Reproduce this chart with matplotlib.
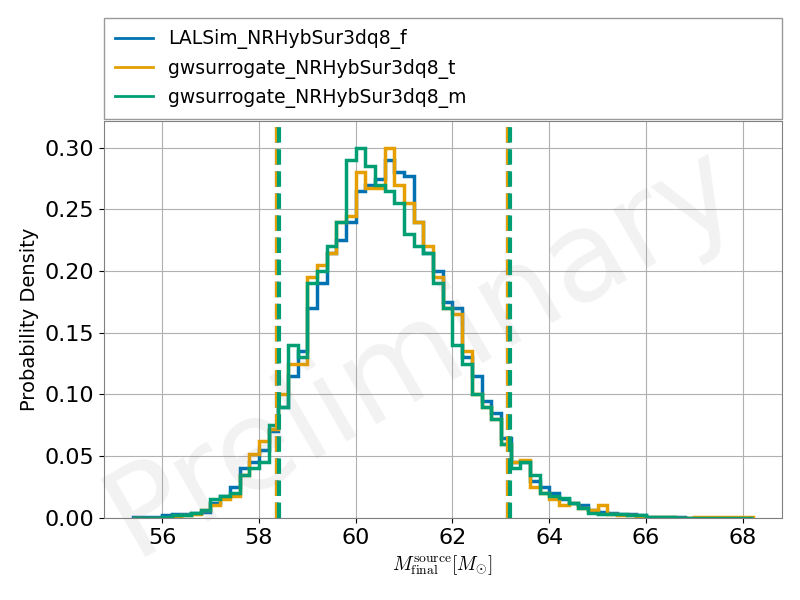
import numpy as np
import matplotlib
matplotlib.use('Agg')
import matplotlib.pyplot as plt
from matplotlib.lines import Line2D

labels = ['LALSim_NRHybSur3dq8_f', 'gwsurrogate_NRHybSur3dq8_t', 'gwsurrogate_NRHybSur3dq8_m']
colors = ['#0072b2', '#e69f00', '#009e73']

# bin edges (width 0.2) and densities
edges = np.round(np.arange(55.4, 68.21, 0.2), 2)
blue = [0.001, 0.001, 0.001, 0.002, 0.003, 0.003, 0.004, 0.005, 0.012, 0.018,
        0.025, 0.04, 0.045, 0.055, 0.07, 0.09, 0.115, 0.135, 0.17, 0.19,
        0.215, 0.225, 0.24, 0.265, 0.27, 0.275, 0.29, 0.28, 0.277, 0.24,
        0.215, 0.2, 0.175, 0.17, 0.13, 0.115, 0.095, 0.085, 0.065, 0.045,
        0.045, 0.03, 0.025, 0.02, 0.015, 0.012, 0.01, 0.006, 0.005, 0.004,
        0.003, 0.003, 0.002, 0.001, 0.001, 0.001, 0.001, 0.0, 0.0, 0.0,
        0.0, 0.0, 0.0, 0.0]
orange = [0.0, 0.0, 0.0, 0.0, 0.001, 0.002, 0.003, 0.006, 0.01, 0.015,
          0.018, 0.035, 0.052, 0.062, 0.072, 0.1, 0.125, 0.125, 0.195, 0.205,
          0.215, 0.24, 0.245, 0.28, 0.267, 0.267, 0.3, 0.27, 0.255, 0.24,
          0.22, 0.195, 0.17, 0.165, 0.135, 0.1, 0.09, 0.08, 0.06, 0.045,
          0.047, 0.025, 0.02, 0.015, 0.01, 0.012, 0.008, 0.006, 0.01, 0.003,
          0.002, 0.002, 0.001, 0.001, 0.001, 0.001, 0.0, 0.0, 0.001, 0.001,
          0.001, 0.001, 0.001, 0.001]
green = [0.0, 0.0, 0.0, 0.001, 0.002, 0.002, 0.004, 0.006, 0.015, 0.018,
         0.02, 0.035, 0.04, 0.045, 0.075, 0.09, 0.14, 0.13, 0.19, 0.2,
         0.22, 0.24, 0.29, 0.3, 0.285, 0.27, 0.265, 0.255, 0.23, 0.22,
         0.215, 0.19, 0.17, 0.14, 0.125, 0.1, 0.09, 0.08, 0.06, 0.04,
         0.045, 0.035, 0.02, 0.018, 0.016, 0.012, 0.008, 0.004, 0.003, 0.003,
         0.003, 0.002, 0.002, 0.001, 0.001, 0.001, 0.0, 0.0, 0.0, 0.0,
         0.0, 0.0, 0.0, 0.0]
lo_q = [58.38, 58.38, 58.42]
hi_q = [63.15, 63.15, 63.18]

plt.rcParams['mathtext.fontset'] = 'cm'
fig = plt.figure(figsize=(8, 6), dpi=100)
ax = fig.add_axes([0.13, 0.137, 0.847, 0.662])
for vals, c, lab, lo, hi in zip([blue, orange, green], colors, labels, lo_q, hi_q):
    ax.stairs(vals, edges, color=c, lw=2.5, label=lab)
    ax.axvline(lo, color=c, ls='--', lw=3)
    ax.axvline(hi, color=c, ls='--', lw=3)

ax.set_xlim(54.8, 68.8)
ax.set_ylim(0, 0.322)
ax.set_xticks(range(56, 69, 2))
ax.set_yticks(np.arange(0, 0.31, 0.05))
ax.tick_params(labelsize=16)
ax.grid(True, color='#b0b0b0', lw=0.8)
ax.set_axisbelow(True)
for s in ax.spines.values():
    s.set_color('#808080')
ax.set_xlabel(r'$M_{\rm final}^{\rm source} [M_{\odot}]$', fontsize=14)
ax.set_ylabel('Probability Density', fontsize=14)
ax.text(0.47, 0.42, 'Preliminary', transform=ax.transAxes, fontsize=90,
        color='gray', alpha=0.1, rotation=30, ha='center', va='center')

handles = [Line2D([], [], color=c, lw=2) for c in colors]
fig.legend(handles, labels, loc='upper left', bbox_to_anchor=(0.13, 0.813, 0.847, 0.157),
           mode='expand', fontsize=13.5, fancybox=False, edgecolor='#808080',
           borderaxespad=0, borderpad=0.6)
fig.savefig('out.png')
